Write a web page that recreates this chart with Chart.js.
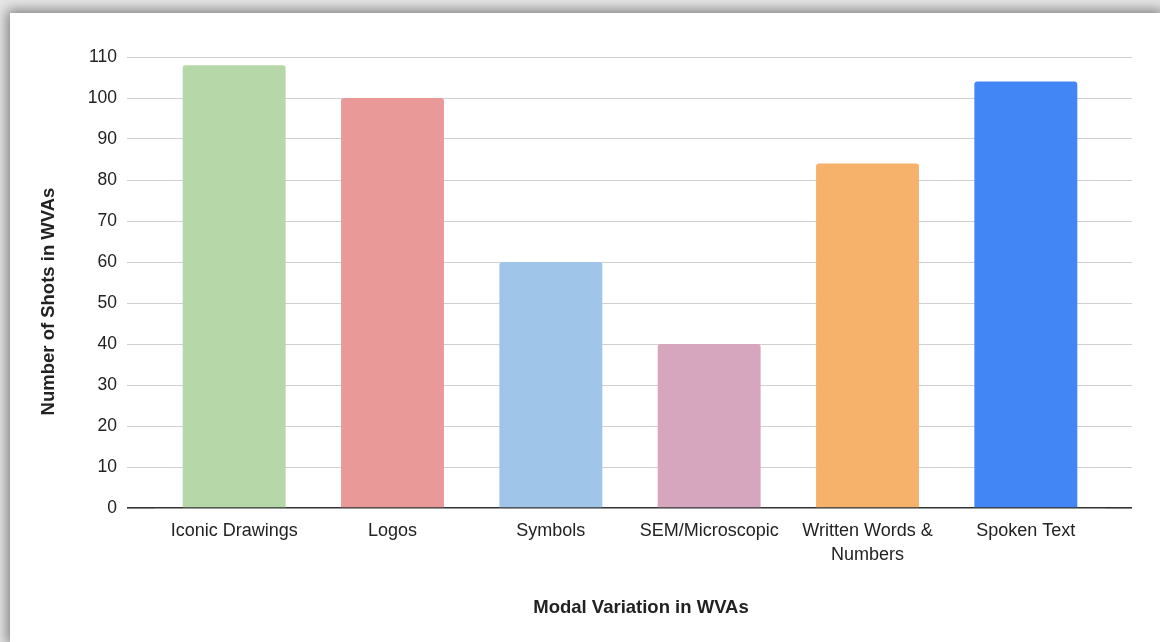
<!DOCTYPE html>
<html>
<head>
<meta charset="utf-8">
<script src="https://cdn.jsdelivr.net/npm/chart.js@4.4.1/dist/chart.umd.min.js"></script>
<style>
html, body { margin: 0; padding: 0; }
body { width: 1160px; height: 642px; background: #e6e6e6; overflow: hidden; position: relative; }
.card { position: absolute; left: 10px; top: 13px; width: 1150px; height: 629px; background: #fff; box-shadow: 0 0 12px 3px rgba(0, 0, 0, 0.45); }
canvas { display: block; }
</style>
</head>
<body>
<div class="card"><canvas id="chart" width="1150" height="629"></canvas></div>
<script>
// Data
const categories = ['Iconic Drawings', 'Logos', 'Symbols', 'SEM/Microscopic', ['Written Words &', 'Numbers'], 'Spoken Text'];
const shotCounts = [108, 100, 60, 40, 84, 104];
const barColors = ['#b6d7a8', '#ea9999', '#9fc5e8', '#d5a6bd', '#f6b26b', '#4285f4'];
const yMin = 0;
const yMax = 110;
const yStep = 10;
const xTitle = 'Modal Variation in WVAs';
const yTitle = 'Number of Shots in WVAs';

const FONT = "'Liberation Sans', Arial, sans-serif";
const GRID = '#d0d0d0';
const ZERO = '#333333';

// Axis titles drawn beside the plot (offset like the reference, not centred on the axis)
const axisTitles = {
    id: 'axisTitles',
    afterDraw(chart) {
        const { ctx, chartArea } = chart;
        ctx.save();
        ctx.font = 'bold 18.5px ' + FONT;
        ctx.fillStyle = '#222';
        ctx.textAlign = 'center';
        ctx.textBaseline = 'middle';
        ctx.fillText(xTitle, (chartArea.left + chartArea.right) / 2 + 11, chartArea.bottom + 100);
        ctx.translate(39, (chartArea.top + chartArea.bottom) / 2 + 19);
        ctx.rotate(-Math.PI / 2);
        ctx.fillText(yTitle, 0, 0);
        ctx.restore();
    }
};

const gridColor = (c) => (c.tick && c.tick.value === 0 ? ZERO : GRID);
const gridWidth = (c) => (c.tick && c.tick.value === 0 ? 1.6 : 1);

new Chart(document.getElementById('chart'), {
    type: 'bar',
    data: {
        labels: categories,
        datasets: [{
            data: shotCounts,
            backgroundColor: barColors,
            borderRadius: { topLeft: 3, topRight: 3, bottomLeft: 0, bottomRight: 0 },
            borderSkipped: false,
            barPercentage: 0.65,
            categoryPercentage: 1
        }]
    },
    options: {
        responsive: false,
        animation: false,
        layout: { padding: { top: 44, left: 0, right: 0, bottom: 0 } },
        plugins: {
            legend: { display: false },
            tooltip: { enabled: false }
        },
        scales: {
            x: {
                grid: { display: false },
                border: { display: false },
                ticks: {
                    color: '#222',
                    padding: 4,
                    maxRotation: 0,
                    autoSkip: false,
                    font: { family: FONT, size: 18, lineHeight: 1.28 }
                },
                afterFit: (s) => { s.height = 134; }
            },
            y: {
                min: yMin,
                max: yMax,
                border: { display: false },
                grid: { color: gridColor, lineWidth: gridWidth, tickLength: 28 },
                ticks: {
                    stepSize: yStep,
                    color: '#222',
                    padding: 10,
                    font: { family: FONT, size: 17.5 }
                },
                afterFit: (s) => { s.width = 145; }
            },
            yRight: {
                position: 'right',
                min: yMin,
                max: yMax,
                border: { display: false },
                grid: { color: gridColor, lineWidth: gridWidth, tickLength: 27, drawOnChartArea: false },
                ticks: { stepSize: yStep, display: false },
                afterFit: (s) => { s.width = 55; }
            }
        }
    },
    plugins: [axisTitles]
});
</script>
</body>
</html>
